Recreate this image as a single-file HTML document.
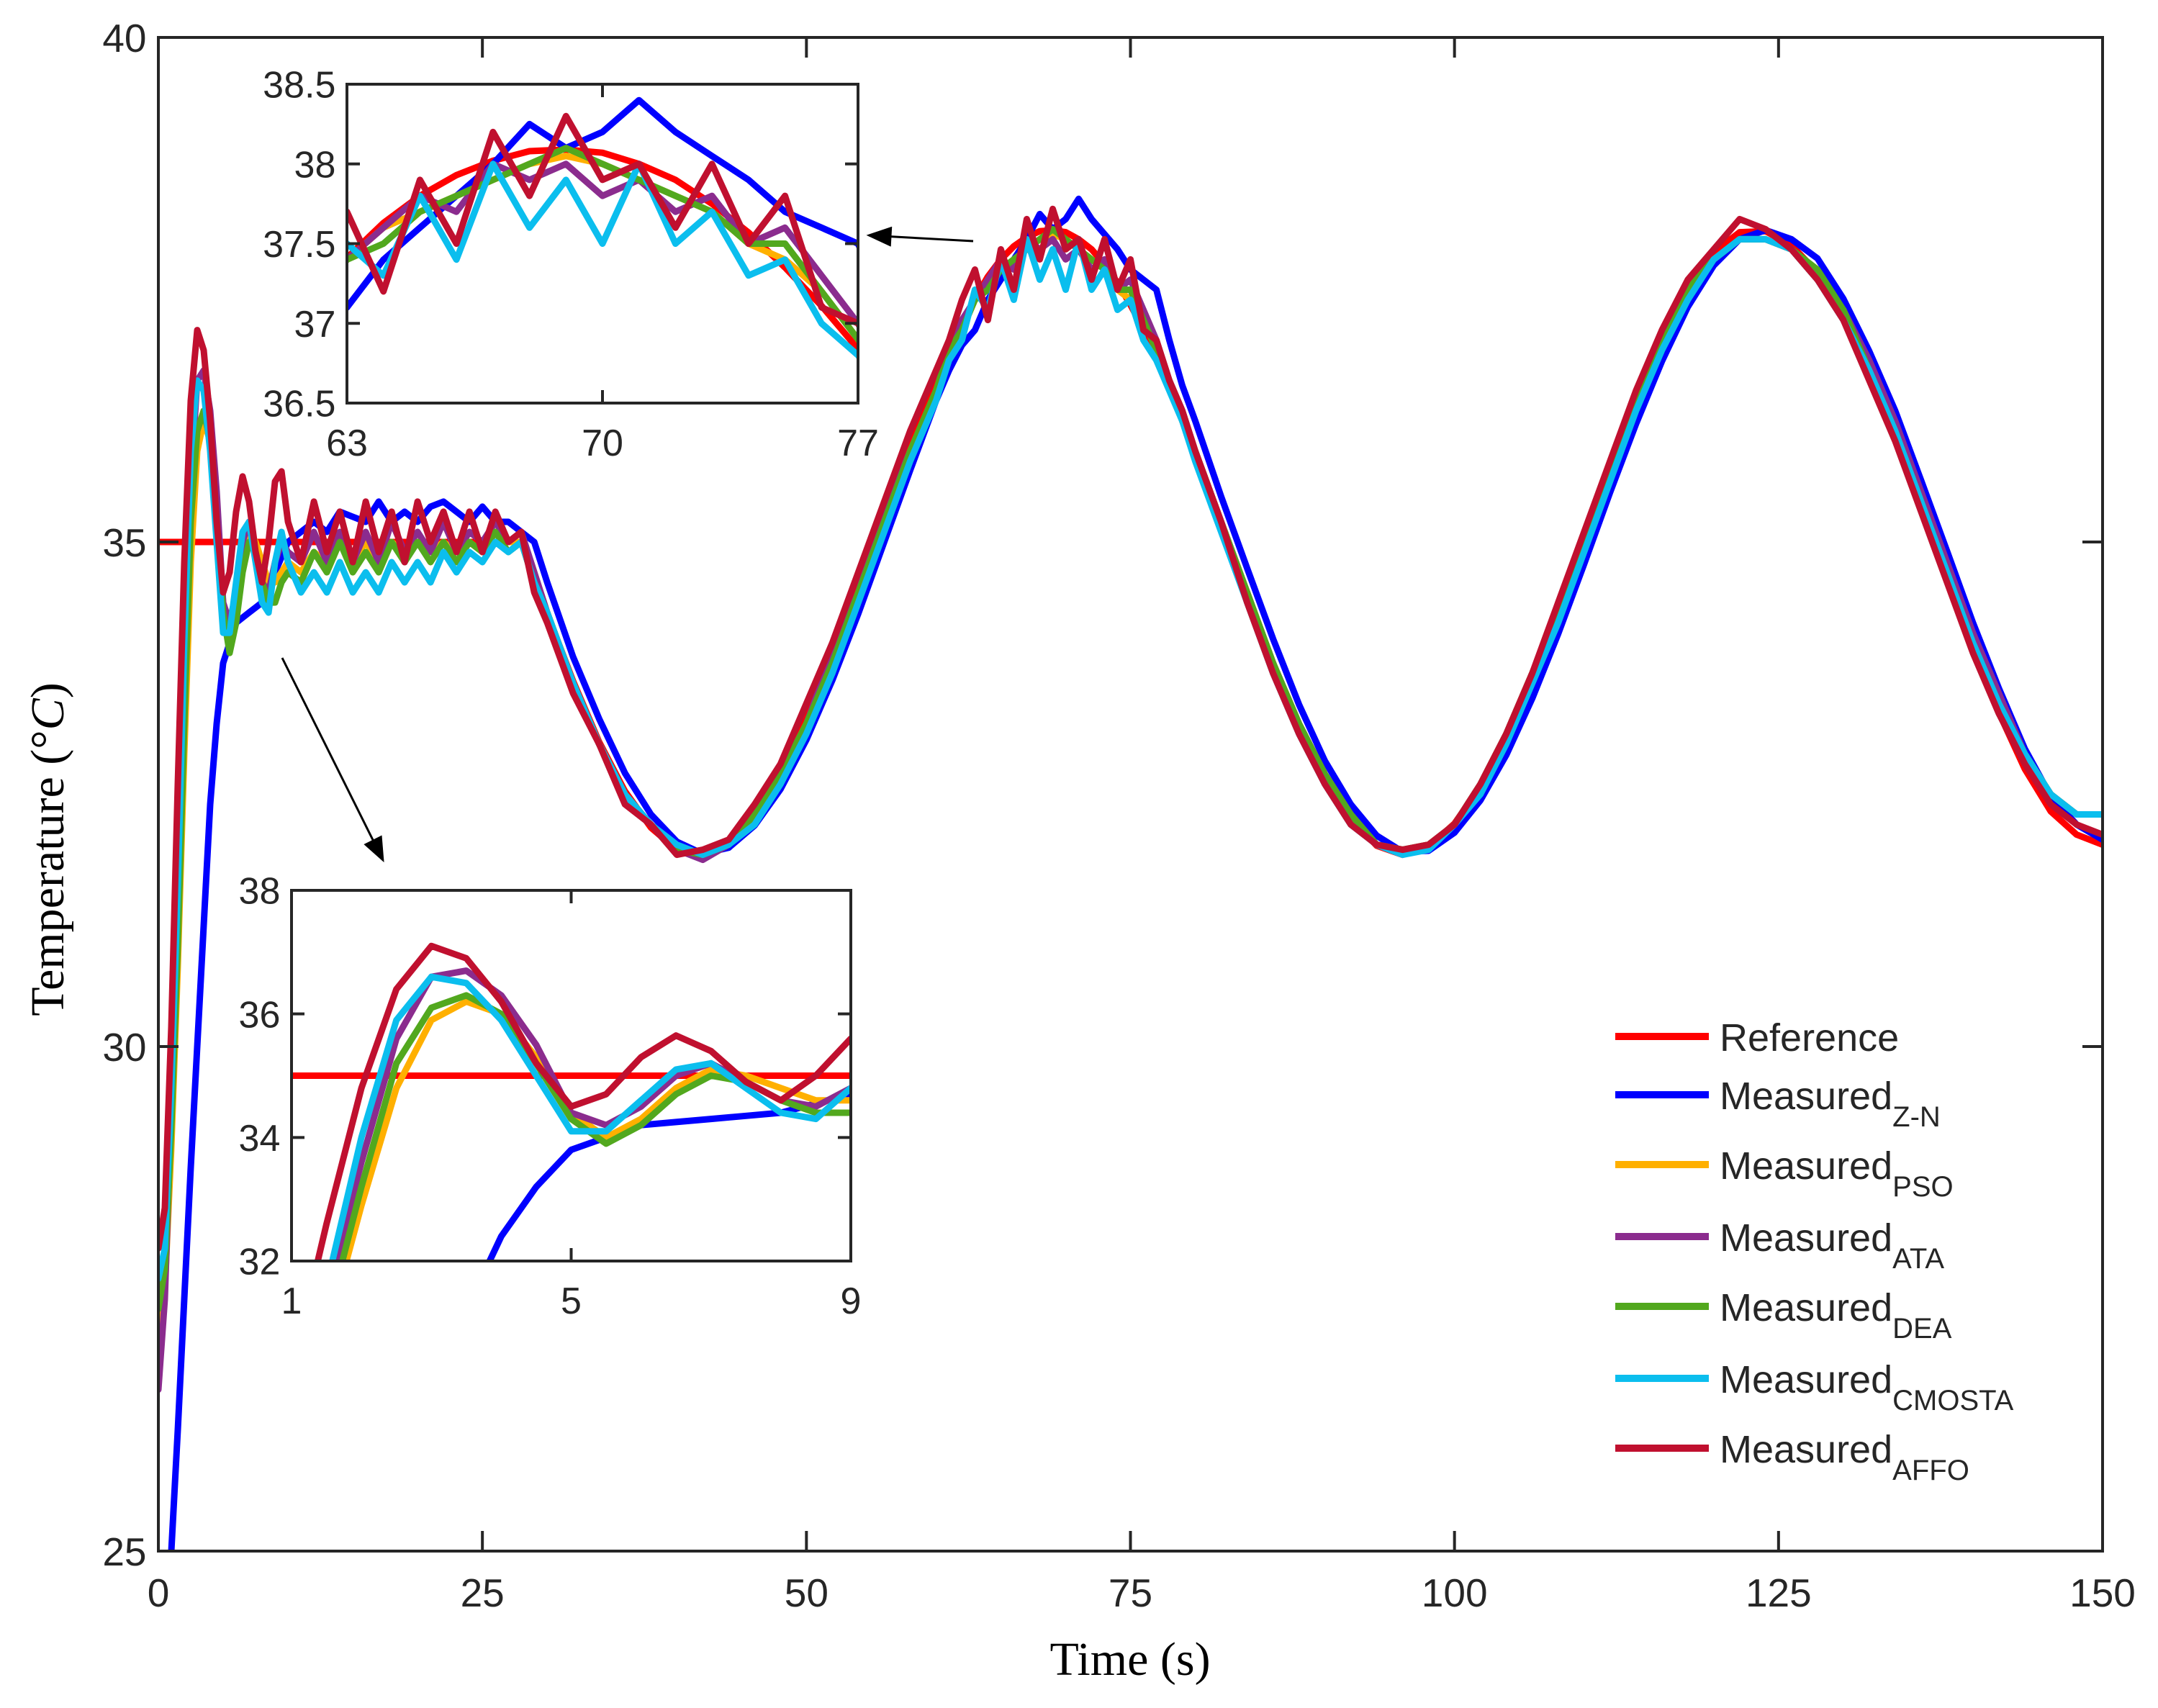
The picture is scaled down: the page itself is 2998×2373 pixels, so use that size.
<!DOCTYPE html>
<html><head><meta charset="utf-8"><style>
html,body{margin:0;padding:0;background:#fff;overflow:hidden}
svg{display:block}
text{font-family:"Liberation Sans",Arial,sans-serif;fill:#262626}
.serif{font-family:"Liberation Serif","Times New Roman",serif;fill:#000}
</style></head><body>
<svg id="chart" width="2998" height="2373" viewBox="0 0 2998 2373" xmlns="http://www.w3.org/2000/svg">
<rect width="2998" height="2373" fill="#fff"/>
<g id="layer"></g>
</svg>
<script>
const times=[0,0.5,1,1.5,2,2.5,3,3.5,4,4.5,5,5.5,6,6.5,7,7.5,8,8.5,9,9.5,10,
11,12,13,14,15,16,17,18,19,20,21,22,23,24,25,26,27,28,29,30,
32,34,36,38,40,42,44,46,48,50,52,54,56,58,
60,61,62,63,64,65,66,67,68,69,70,71,72,73,74,75,76,77,78,79,80,
82,84,86,88,90,92,94,96,98,100,102,104,106,108,110,112,114,116,118,120,122,124,126,128,130,132,134,136,138,140,142,144,146,148,150];
const reference=[35,35,35,35,35,35,35,35,35,35,35,35,35,35,35,35,35,35,35,35,35,
35,35,35,35,35,35,35,35,35,35,35,35,35,35,35,35,35,35,34.65,34.29,
33.62,33.02,32.53,32.17,31.95,31.9,32.02,32.29,32.7,33.24,33.86,34.55,35.27,35.97,
36.61,36.9,37.17,37.41,37.63,37.8,37.93,38.02,38.08,38.09,38.07,38,37.9,37.75,37.57,37.35,37.11,36.84,36.55,36.23,35.88,
35.18,34.47,33.78,33.15,32.64,32.26,31.99,31.9,31.98,32.21,32.58,33.08,33.68,34.33,35.05,35.75,36.42,37.01,37.51,37.87,38.07,38.08,37.94,37.67,37.22,36.67,36.05,35.35,34.66,33.94,33.31,32.75,32.33,32.1,32.0];
const measuredZN=[22,23.5,25,26.2,27.5,28.8,30,31.2,32.4,33.2,33.8,34,34.2,34.25,34.3,34.35,34.4,34.55,34.7,34.85,35,
35.1,35.2,35.1,35.3,35.25,35.2,35.4,35.2,35.3,35.2,35.35,35.4,35.3,35.2,35.35,35.2,35.2,35.1,35.0,34.6,
33.86,33.25,32.71,32.3,32.03,31.91,31.97,32.19,32.55,33.04,33.63,34.29,35.0,35.71,
36.4,36.7,36.95,37.1,37.4,37.6,37.8,38.0,38.25,38.1,38.2,38.4,38.2,38.05,37.9,37.7,37.6,37.5,37.0,36.55,36.2,
35.45,34.74,34.04,33.39,32.83,32.4,32.09,31.93,31.94,32.12,32.44,32.89,33.45,34.09,34.78,35.49,36.17,36.79,37.33,37.74,38.0,38.09,38.0,37.81,37.41,36.89,36.3,35.61,34.91,34.2,33.55,32.95,32.48,32.2,32.05];
const measuredPSO=[27.1,27.6,29,30.8,32.9,34.8,35.9,36.2,36,35.3,34.4,34,34.3,34.8,35.1,35,34.8,34.6,34.6,34.7,34.8,
34.7,34.9,34.8,35,34.8,35,34.8,35,34.9,35,34.9,35,34.9,35,34.9,35.1,35,35,34.6,34.3,
33.6,33,32.5,32.2,31.95,31.9,32,32.3,32.7,33.2,33.8,34.5,35.2,35.9,
36.5,36.9,37.1,37.4,37.6,37.7,37.8,37.9,38,38.05,38,37.9,37.8,37.7,37.5,37.4,37.2,36.9,36.6,36.2,35.9,
35.2,34.5,33.8,33.2,32.7,32.3,32,31.95,32,32.2,32.6,33.1,33.7,34.3,35,35.7,36.4,37,37.5,37.8,38,38,37.9,37.6,37.3,36.7,36.1,35.4,34.7,34,33.4,32.9,32.5,32.3,32.3];
const measuredATA=[26.6,27.5,29.4,31.4,33.6,35.6,36.6,36.7,36.3,35.5,34.4,34.2,34.5,35,35.2,34.9,34.6,34.5,34.8,35,34.9,
34.8,35.1,34.8,35.1,34.8,35.1,34.8,35.2,34.9,35.1,34.9,35.2,34.9,35.1,35,35.2,35,35.1,34.7,34.3,
33.6,33,32.5,32.2,31.95,31.85,32,32.3,32.7,33.2,33.9,34.5,35.3,35.9,
36.5,36.9,37.2,37.4,37.6,37.8,37.7,38,37.9,38,37.8,37.9,37.7,37.8,37.5,37.6,37.3,37,36.6,36.3,35.9,
35.2,34.5,33.8,33.2,32.7,32.3,32,31.95,32,32.2,32.6,33.1,33.7,34.3,35,35.7,36.4,37,37.5,37.8,38,38,37.9,37.6,37.3,36.8,36.2,35.5,34.8,34.1,33.5,32.9,32.5,32.3,32.3];
const measuredDEA=[27.4,27.8,29.2,31,33.2,35.2,36.1,36.3,36,35.2,34.3,33.9,34.2,34.7,35,34.9,34.6,34.4,34.4,34.6,34.7,
34.6,34.9,34.7,35,34.7,34.9,34.7,35,34.8,35,34.8,35,34.8,35,34.9,35.1,34.9,35,34.6,34.3,
33.6,33,32.5,32.2,31.95,31.9,32,32.3,32.7,33.2,33.8,34.5,35.2,35.9,
36.5,36.9,37.1,37.4,37.5,37.7,37.8,37.9,38,38.1,38,37.9,37.8,37.7,37.5,37.5,37.2,36.9,36.6,36.2,35.9,
35.2,34.5,33.8,33.2,32.7,32.3,32,31.95,32,32.2,32.6,33.1,33.7,34.3,35,35.7,36.4,37,37.5,37.8,38,38,37.9,37.7,37.3,36.7,36.1,35.4,34.7,34,33.4,32.9,32.5,32.3,32.3];
const measuredCMOSTA=[27.7,28,29.6,31.6,34,35.9,36.6,36.5,35.9,35,34.1,34.1,34.6,35.1,35.2,34.8,34.4,34.3,34.8,35.1,34.8,
34.5,34.7,34.5,34.8,34.5,34.7,34.5,34.8,34.6,34.8,34.6,34.9,34.7,34.9,34.8,35,34.9,35,34.6,34.3,
33.6,33,32.5,32.2,32,31.9,32,32.2,32.6,33.1,33.7,34.4,35.1,35.8,
36.4,36.8,37,37.5,37.3,37.8,37.4,38,37.6,37.9,37.5,38,37.5,37.7,37.3,37.4,37,36.8,36.5,36.2,35.8,
35.1,34.4,33.7,33.1,32.6,32.2,32,31.9,31.95,32.2,32.5,33,33.6,34.2,34.9,35.6,36.3,36.9,37.4,37.8,38,38,37.9,37.6,37.2,36.7,36.1,35.4,34.7,34,33.4,32.9,32.5,32.3,32.3];
const measuredAFFO=[28,28.4,30.2,32.6,34.8,36.4,37.1,36.9,36.2,35.2,34.5,34.7,35.3,35.65,35.4,34.9,34.6,35,35.6,35.7,35.2,
34.8,35.4,34.9,35.3,34.8,35.4,34.9,35.3,34.8,35.4,35,35.3,34.9,35.3,34.9,35.3,35,35.1,34.5,34.2,
33.5,33,32.4,32.2,31.9,31.95,32.05,32.4,32.8,33.4,34,34.7,35.4,36.1,
36.7,37,37.4,37.7,37.2,37.9,37.5,38.2,37.8,38.3,37.9,38,37.6,38,37.5,37.8,37.1,37,36.6,36.3,35.9,
35.2,34.4,33.7,33.1,32.6,32.2,32,31.95,32,32.2,32.6,33.1,33.7,34.4,35.1,35.8,36.5,37.1,37.6,37.9,38.2,38.1,37.9,37.6,37.2,36.6,36,35.3,34.6,33.9,33.3,32.8,32.4,32.2,32.1];
const mainXTicks=[0,25,50,75,100,125,150];
const mainYTicks=[25,30,35,40];
const inset1XTicks=[63,70,77];
const inset1YTicks=[36.5,37,37.5,38,38.5];
const inset1YLabels=["36.5","37","37.5","38","38.5"];
const inset2XTicks=[1,5,9];
const inset2YTicks=[32,34,36,38];
const legendLabels=[["Reference",""],["Measured","Z-N"],["Measured","PSO"],["Measured","ATA"],["Measured","DEA"],["Measured","CMOSTA"],["Measured","AFFO"]];

const NS="http://www.w3.org/2000/svg";
const layer=document.getElementById('layer');
const seriesList=[
 {key:'reference',vals:reference,color:'#FF0000'},
 {key:'z-n',vals:measuredZN,color:'#0000FF'},
 {key:'pso',vals:measuredPSO,color:'#FFB000'},
 {key:'ata',vals:measuredATA,color:'#8B2C8E'},
 {key:'dea',vals:measuredDEA,color:'#52A81E'},
 {key:'cmosta',vals:measuredCMOSTA,color:'#0BBEEE'},
 {key:'affo',vals:measuredAFFO,color:'#C0102F'}];
function mk(tag,attrs,parent){const e=document.createElementNS(NS,tag);for(const k in attrs)e.setAttribute(k,attrs[k]);(parent||layer).appendChild(e);return e;}

function panel(name,box,xr,yr,xt,yt,ytl,tickLen,lw,fs){
  const sx=v=>box.l+(v-xr[0])/(xr[1]-xr[0])*(box.r-box.l);
  const sy=v=>box.b-(v-yr[0])/(yr[1]-yr[0])*(box.b-box.t);
  const g=mk('g',{});
  
  
  mk('rect',{x:box.l,y:box.t,width:box.r-box.l,height:box.b-box.t,fill:'#fff'},g);
  const cp=mk('clipPath',{id:name+'-clip'},g);
  mk('rect',{x:box.l,y:box.t,width:box.r-box.l,height:box.b-box.t},cp);
  const lg=mk('g',{'clip-path':'url(#'+name+'-clip)'},g);
  seriesList.forEach(s=>{
    let d='';
    times.forEach((t,i)=>{d+=(i?'L':'M')+sx(t).toFixed(1)+' '+sy(s.vals[i]).toFixed(1);});
    const p=mk('path',{d:d,fill:'none',stroke:s.color,'stroke-width':lw,'stroke-linejoin':'round','stroke-linecap':'round'},lg);
    
    
  });
  const ax=mk('g',{stroke:'#262626','stroke-width':4,fill:'none'},g);
  mk('rect',{x:box.l,y:box.t,width:box.r-box.l,height:box.b-box.t},ax);
  xt.forEach(v=>{const x=sx(v);
    mk('line',{x1:x,y1:box.b,x2:x,y2:box.b-tickLen},ax);
    mk('line',{x1:x,y1:box.t,x2:x,y2:box.t+tickLen},ax);
    const tx=mk('text',{x:x,y:box.b+fs*1.4,'font-size':fs,'text-anchor':'middle'},g);tx.textContent=String(v);
    
    
  });
  yt.forEach((v,i)=>{const y=sy(v);
    mk('line',{x1:box.l,y1:y,x2:box.l+tickLen,y2:y},ax);
    mk('line',{x1:box.r,y1:y,x2:box.r-tickLen,y2:y},ax);
    const tx=mk('text',{x:box.l-fs*0.3,y:y+fs*0.36,'font-size':fs,'text-anchor':'end'},g);tx.textContent=ytl?ytl[i]:String(v);
    
    
  });
}
panel('main-plot',{l:220,r:2921,t:52,b:2155},[0,150],[25,40],mainXTicks,mainYTicks,null,28,9,55);
panel('inset-zoom-63-77',{l:482,r:1192,t:117,b:560},[63,77],[36.5,38.5],inset1XTicks,inset1YTicks,inset1YLabels,18,9,52);
panel('inset-zoom-1-9',{l:405,r:1182,t:1237,b:1752},[1,9],[32,38],inset2XTicks,inset2YTicks,null,18,9,52);

// arrows
const defs=mk('defs',{});
const mkr=mk('marker',{id:'ah',refX:9,refY:4,orient:'auto',markerUnits:'userSpaceOnUse',viewBox:'0 0 10 8'},defs);
mkr.setAttribute('markerWidth','36');mkr.setAttribute('markerHeight','28');
mk('path',{d:'M0 0 L10 4 L0 8 Z',fill:'#000'},mkr);
const a1=mk('line',{x1:392,y1:914,x2:532,y2:1195,stroke:'#000','stroke-width':3,'marker-end':'url(#ah)'});


const a2=mk('line',{x1:1352,y1:335,x2:1207,y2:327,stroke:'#000','stroke-width':3,'marker-end':'url(#ah)'});



// legend
const lgY=[1440,1521,1618,1718,1815,1915,2012];
const leg=mk('g',{});


legendLabels.forEach((lab,i)=>{
  const y=lgY[i];
  const ln=mk('line',{x1:2244,y1:y,x2:2374,y2:y,stroke:seriesList[i].color,'stroke-width':10},leg);
  
  
  const t=mk('text',{x:2389,y:y+20,'font-size':54,fill:'#000'},leg);
  
  
  t.appendChild(document.createTextNode(lab[0]));
  if(lab[1]){const ts=mk('tspan',{'font-size':40,dy:24},t);ts.textContent=lab[1];}
});

// axis titles
const xl=mk('text',{x:1570,y:2327,'font-size':66,'text-anchor':'middle',class:'serif'});
xl.textContent='Time (s)';


const yl=mk('text',{x:0,y:0,'font-size':66,'text-anchor':'middle',class:'serif',transform:'translate(88,1180) rotate(-90)'});


yl.appendChild(document.createTextNode('Temperature (°'));
const ci=mk('tspan',{'font-style':'italic'},yl);ci.textContent='C';
yl.appendChild(document.createTextNode(')'));
</script>
</body></html>
